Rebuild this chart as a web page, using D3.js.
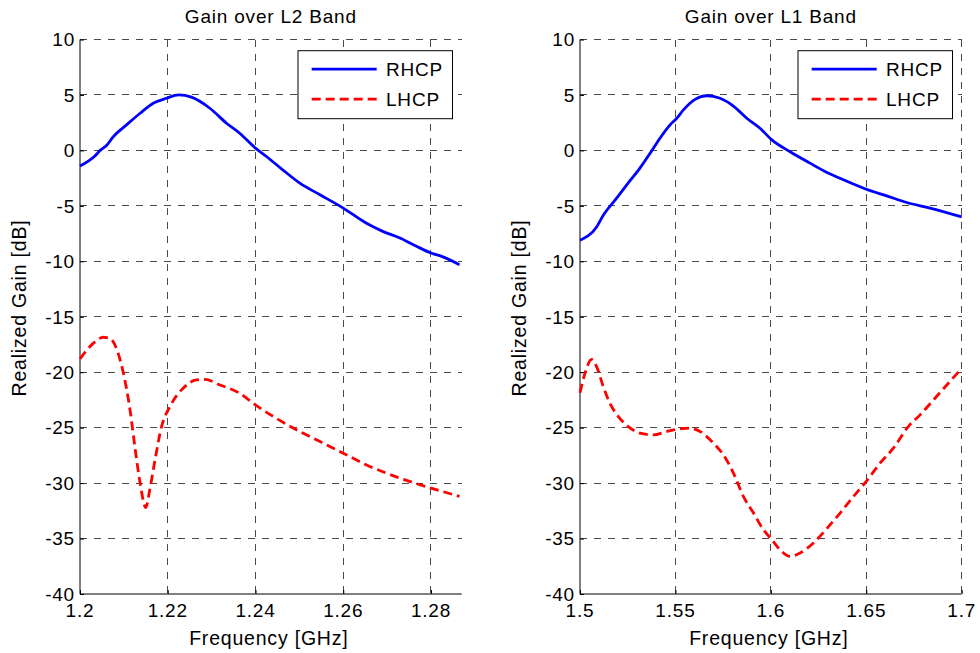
<!DOCTYPE html>
<html>
<head>
<meta charset="utf-8">
<script src="https://d3js.org/d3.v7.min.js"></script>
<style>
  body { margin: 0; background: #fff; }
  svg { display: block; font-family: "Liberation Sans", Arial, sans-serif; }
  .grid line { stroke: #4a4a4a; stroke-width: 1; stroke-dasharray: 7 7; shape-rendering: crispEdges; }
  .tick-label { font-size: 19px; letter-spacing: 0.8px; fill: #000; }
  .axis-label { font-size: 19.5px; letter-spacing: 0.8px; fill: #000; text-anchor: middle; }
  .title { font-size: 19px; letter-spacing: 0.8px; fill: #000; text-anchor: middle; }
  .legend text { font-size: 19px; letter-spacing: 0.8px; fill: #000; }
</style>
</head>
<body>
<script>
// y ticks shared by both panels
var gainTicks = [10, 5, 0, -5, -10, -15, -20, -25, -30, -35, -40];

// L2 band
var l2Freq = [1.2, 1.2034, 1.2046, 1.2061, 1.2075, 1.2106, 1.2137, 1.2167, 1.2197, 1.2225, 1.2254, 1.2296, 1.2334, 1.2364, 1.24, 1.2425, 1.2462, 1.2501, 1.2547, 1.26, 1.2652, 1.269, 1.2729, 1.2767, 1.28, 1.2827, 1.2865];
var l2Rhcp = [-1.4, -0.5, 0, 0.46, 1.2, 2.3, 3.35, 4.25, 4.7, 5.0, 4.8, 3.8, 2.45, 1.55, 0.2, -0.55, -1.75, -2.95, -4.0, -5.2, -6.55, -7.3, -7.9, -8.65, -9.25, -9.6, -10.3];
var l2FreqL = [1.2, 1.203, 1.2053, 1.2068, 1.2087, 1.2099, 1.2114, 1.2125, 1.2137, 1.215, 1.2159, 1.2171, 1.2186, 1.2205, 1.2235, 1.2265, 1.2284, 1.2319, 1.2364, 1.24, 1.2447, 1.2501, 1.2547, 1.26, 1.2652, 1.2698, 1.2751, 1.28, 1.2865];
var l2Lhcp = [-18.8, -17.4, -16.85, -16.95, -18.3, -20.1, -23.4, -26.7, -30.0, -32.2, -30.6, -27.9, -24.9, -23.1, -21.45, -20.7, -20.65, -21.15, -21.9, -22.95, -24.15, -25.35, -26.25, -27.3, -28.35, -29.1, -29.85, -30.45, -31.2];
var l2Ticks = [1.2, 1.22, 1.24, 1.26, 1.28];

// L1 band
var l1Freq = [1.5, 1.5087, 1.5122, 1.5192, 1.5245, 1.5314, 1.5367, 1.5419, 1.5472, 1.5507, 1.5542, 1.5603, 1.5664, 1.5734, 1.5804, 1.5874, 1.5943, 1.6005, 1.6101, 1.6205, 1.6284, 1.638, 1.65, 1.6607, 1.6712, 1.6834, 1.7];
var l1Rhcp = [-8.1, -6.9, -5.85, -4.3, -3.1, -1.6, -0.27, 1.1, 2.3, 2.9, 3.65, 4.6, 4.93, 4.7, 4.0, 2.9, 2.0, 0.95, -0.12, -1.15, -1.9, -2.65, -3.5, -4.1, -4.7, -5.2, -6.0];
var l1FreqL = [1.5, 1.5026, 1.5061, 1.5087, 1.5122, 1.5157, 1.5201, 1.5253, 1.5314, 1.5384, 1.5454, 1.5507, 1.5577, 1.5629, 1.5699, 1.5751, 1.5804, 1.5856, 1.5909, 1.5961, 1.6005, 1.6048, 1.6101, 1.6153, 1.6223, 1.6293, 1.6363, 1.6433, 1.65, 1.6572, 1.6642, 1.672, 1.6782, 1.6852, 1.6922, 1.7];
var l1Lhcp = [-21.85, -20.1, -18.85, -19.5, -21.3, -22.8, -24.0, -24.9, -25.5, -25.65, -25.35, -25.15, -25.05, -25.35, -26.4, -27.45, -29.1, -31.2, -32.7, -34.2, -35.1, -36.0, -36.6, -36.3, -35.4, -34.1, -32.7, -31.2, -29.85, -28.2, -26.85, -24.9, -23.85, -22.5, -21.15, -19.65];
var l1Ticks = [1.5, 1.55, 1.6, 1.65, 1.7];

var seriesNames = ["RHCP", "LHCP"];

var W = 980, H = 653;
var svg = d3.select("body").append("svg").attr("width", W).attr("height", H);

function panel(opts) {
  var x = d3.scaleLinear().domain(opts.xDomain).range([opts.left, opts.right]);
  var y = d3.scaleLinear().domain([-40, 10]).range([594, 39.5]);
  var g = svg.append("g");

  // grid
  var grid = g.append("g").attr("class", "grid");
  grid.selectAll(".gx").data(opts.xTicks.filter(function(d, i) { return i > 0; }))
    .enter().append("line")
    .attr("x1", function(d) { return x(d); }).attr("x2", function(d) { return x(d); })
    .attr("y1", y(10)).attr("y2", y(-40));
  grid.selectAll(".gy").data(gainTicks.filter(function(d) { return d > -40; }))
    .enter().append("line")
    .attr("x1", x.range()[0]).attr("x2", x.range()[1])
    .attr("y1", function(d) { return y(d); }).attr("y2", function(d) { return y(d); });

  // axes (MATLAB style, ticks inward)
  var yAxis = d3.axisRight(y).tickValues(gainTicks).tickSize(4).tickFormat("");
  g.append("g").attr("transform", "translate(" + x.range()[0] + ",0)").call(yAxis)
    .call(function(s) { s.selectAll("path,line").attr("stroke", "#000"); s.select(".domain").remove(); });
  var xAxis = d3.axisTop(x).tickValues(opts.xTicks).tickSize(4).tickFormat("");
  g.append("g").attr("transform", "translate(0," + y(-40) + ")").call(xAxis)
    .call(function(s) { s.selectAll("path,line").attr("stroke", "#000"); s.select(".domain").remove(); });
  g.append("line").attr("x1", x.range()[0]).attr("x2", x.range()[0])
    .attr("y1", y(-40)).attr("y2", y(10)).attr("stroke", "#000");
  g.append("line").attr("x1", x.range()[0]).attr("x2", x.range()[1])
    .attr("y1", y(-40)).attr("y2", y(-40)).attr("stroke", "#000");

  // tick labels
  g.selectAll(".yl").data(gainTicks).enter().append("text")
    .attr("class", "tick-label")
    .attr("x", x.range()[0] - 5).attr("y", function(d) { return y(d); })
    .attr("dy", "0.36em").attr("text-anchor", "end")
    .text(function(d) { return d; });
  g.selectAll(".xl").data(opts.xTicks).enter().append("text")
    .attr("class", "tick-label")
    .attr("x", function(d) { return x(d); }).attr("y", y(-40) + 23)
    .attr("text-anchor", "middle")
    .text(function(d) { return d; });

  // labels
  var cx = (x.range()[0] + x.range()[1]) / 2;
  g.append("text").attr("class", "title").attr("x", cx).attr("y", 23).text(opts.title);
  g.append("text").attr("class", "axis-label").attr("x", cx - 2).attr("y", 645).text("Frequency [GHz]");
  g.append("text").attr("class", "axis-label")
    .attr("transform", "translate(" + (x.range()[0] - 54) + ",308) rotate(-90)")
    .text("Realized Gain [dB]");

  // curves
  var line = d3.line().x(function(d) { return x(d[0]); }).y(function(d) { return y(d[1]); })
    .curve(d3.curveMonotoneX);
  g.append("path").attr("d", line(d3.zip(opts.fL, opts.lhcp)))
    .attr("fill", "none").attr("stroke", "#ff0000").attr("stroke-width", 2.8)
    .attr("stroke-dasharray", "9 5");
  g.append("path").attr("d", line(d3.zip(opts.fR, opts.rhcp)))
    .attr("fill", "none").attr("stroke", "#0000ff").attr("stroke-width", 2.8);

  // legend
  var lx = x.range()[1] - 163.7, ly = 50.7;
  var lg = g.append("g").attr("class", "legend");
  lg.append("rect").attr("x", lx).attr("y", ly).attr("width", 154.5).attr("height", 68)
    .attr("fill", "#fff").attr("stroke", "#000").attr("stroke-width", 1);
  var colors = ["#0000ff", "#ff0000"], dashes = [null, "9 5"];
  seriesNames.forEach(function(name, i) {
    var yy = ly + 18.5 + i * 30;
    lg.append("line").attr("x1", lx + 13.7).attr("x2", lx + 78.7).attr("y1", yy).attr("y2", yy)
      .attr("stroke", colors[i]).attr("stroke-width", 2.8).attr("stroke-dasharray", dashes[i]);
    lg.append("text").attr("x", lx + 88).attr("y", yy).attr("dy", "0.36em").text(name);
  });
}

panel({ xDomain: [1.2, 1.287], left: 80, right: 461.7, xTicks: l2Ticks, title: "Gain over L2 Band",
  fR: l2Freq, rhcp: l2Rhcp, fL: l2FreqL, lhcp: l2Lhcp });
panel({ xDomain: [1.5, 1.7], left: 580, right: 961.7, xTicks: l1Ticks, title: "Gain over L1 Band",
  fR: l1Freq, rhcp: l1Rhcp, fL: l1FreqL, lhcp: l1Lhcp });
</script>
</body>
</html>
